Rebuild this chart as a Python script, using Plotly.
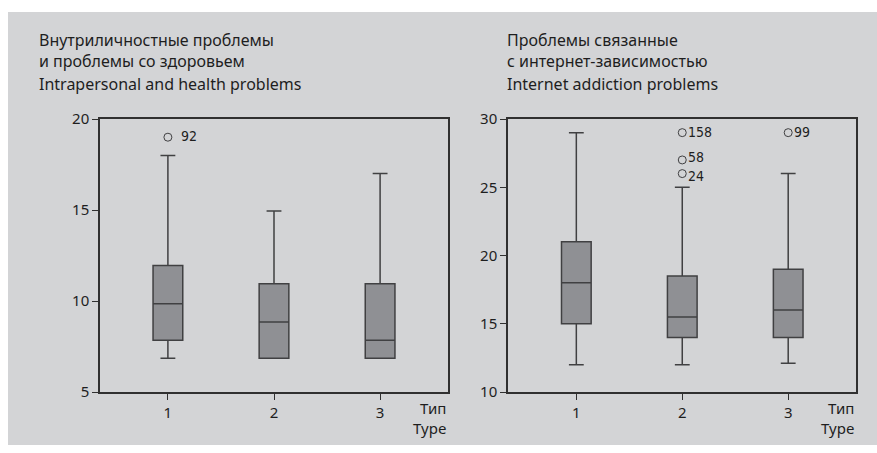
import plotly.graph_objects as go

W, H = 877, 453

# ---- data ----
types = [1, 2, 3]

left_low = [6.85, 6.85, 6.85]
left_q1 = [7.85, 6.85, 6.85]
left_median = [9.85, 8.85, 7.85]
left_q3 = [11.95, 10.95, 10.95]
left_high = [18, 14.95, 17]
left_out_x = [1]
left_out_y = [19]
left_out_labels = ["92"]

right_low = [12, 12, 12.1]
right_q1 = [15, 14, 14]
right_median = [18, 15.5, 16]
right_q3 = [21, 18.5, 19]
right_high = [29, 25, 26]
right_out_x = [2, 2, 2, 3]
right_out_y = [29, 27, 26, 29]
right_out_labels = ["158", "58", "24", "99"]

left_title_ru = "Внутриличностные проблемы<br>и проблемы со здоровьем"
left_title_en = "Intrapersonal and health problems"
right_title_ru = "Проблемы связанные<br>с интернет-зависимостью"
right_title_en = "Internet addiction problems"
x_title = "Тип<br>Type"

left_ticks = [5, 10, 15, 20]
right_ticks = [10, 15, 20, 25, 30]

# ---- styles ----
PANEL = "#d3d4d6"
PLOTBG = "#bebfc2"
BOXFILL = "#8f9094"
LINE = "#404042"
TXT = "#1e1e1e"
FONT = "Noto Sans, Open Sans, sans-serif"
NARROW = "Liberation Sans Narrow, DejaVu Sans Condensed, sans-serif"
left_label_yshift = [1]
right_label_yshift = [1, 3, -2, 1]

def px(x):
    return x / W

def py(y):
    return 1 - y / H

fig = go.Figure()

def add_boxes(xa, ya, low, q1, med, q3, high):
    fig.add_trace(go.Box(
        x=types, lowerfence=low, q1=q1, median=med, q3=q3, upperfence=high,
        xaxis=xa, yaxis=ya, width=0.28, whiskerwidth=0.5,
        fillcolor=BOXFILL, line=dict(color=LINE, width=1.5),
        boxpoints=False, showlegend=False, hoverinfo="skip",
    ))

def add_outliers(xa, ya, xs, ys, labels, shift, yshifts):
    fig.add_trace(go.Scatter(
        x=xs, y=ys, mode="markers", xaxis=xa, yaxis=ya,
        marker=dict(symbol="circle-open", size=8, color=LINE, line=dict(width=1)),
        showlegend=False, hoverinfo="skip",
    ))
    for x, y, t, ys_ in zip(xs, ys, labels, yshifts):
        fig.add_annotation(
            x=x, y=y, xref=xa, yref=ya, text=t, showarrow=False,
            xanchor="left", yanchor="middle", xshift=shift, yshift=ys_,
            font=dict(family=NARROW, size=14, color=TXT),
        )

add_boxes("x", "y", left_low, left_q1, left_median, left_q3, left_high)
add_outliers("x", "y", left_out_x, left_out_y, left_out_labels, 11, left_label_yshift)
add_boxes("x2", "y2", right_low, right_q1, right_median, right_q3, right_high)
add_outliers("x2", "y2", right_out_x, right_out_y, right_out_labels, 4, right_label_yshift)

ydom = [py(392), py(119)]
axis_common = dict(
    showgrid=False, zeroline=False, showline=True, mirror=True,
    linecolor="#303030", linewidth=1.5, ticks="outside", ticklen=6,
    tickcolor="#303030", tickwidth=1.2, automargin=False,
    tickfont=dict(family=FONT, size=15, color=TXT),
)

fig.update_layout(
    width=W, height=H, autosize=False,
    margin=dict(l=0, r=0, t=0, b=0, pad=0, autoexpand=False),
    paper_bgcolor="white", plot_bgcolor=PLOTBG,
    xaxis=dict(domain=[px(100), px(448)], range=[0.36, 3.64],
               tickvals=types, ticktext=[str(t) for t in types], anchor="y", **axis_common),
    yaxis=dict(domain=ydom, range=[5, 20], tickvals=left_ticks, anchor="x", **axis_common),
    xaxis2=dict(domain=[px(508), px(856)], range=[0.355, 3.64],
                tickvals=types, ticktext=[str(t) for t in types], anchor="y2", **axis_common),
    yaxis2=dict(domain=ydom, range=[10, 30], tickvals=right_ticks, anchor="x2", **axis_common),
    shapes=[dict(type="rect", xref="paper", yref="paper", x0=px(8), x1=1,
                 y0=py(445), y1=py(12), fillcolor=PANEL, line=dict(width=0), layer="below")],
)

def title(xpix, ru, en):
    fig.add_annotation(x=px(xpix), y=py(27), xref="paper", yref="paper", text=ru,
                       showarrow=False, xanchor="left", yanchor="top", align="left",
                       font=dict(family=FONT, size=16, color=TXT))
    fig.add_annotation(x=px(xpix), y=py(71), xref="paper", yref="paper", text=en,
                       showarrow=False, xanchor="left", yanchor="top", align="left",
                       font=dict(family=FONT, size=16, color=TXT))

title(37, left_title_ru, left_title_en)
title(505, right_title_ru, right_title_en)

for xr in (448, 856):
    fig.add_annotation(x=px(xr), y=py(396), xref="paper", yref="paper", text=x_title,
                       showarrow=False, xanchor="right", yanchor="top", align="right",
                       font=dict(family=FONT, size=15, color=TXT))

fig.write_html("out.html", config={"displayModeBar": False},
               post_script="document.body.style.margin='0';")
